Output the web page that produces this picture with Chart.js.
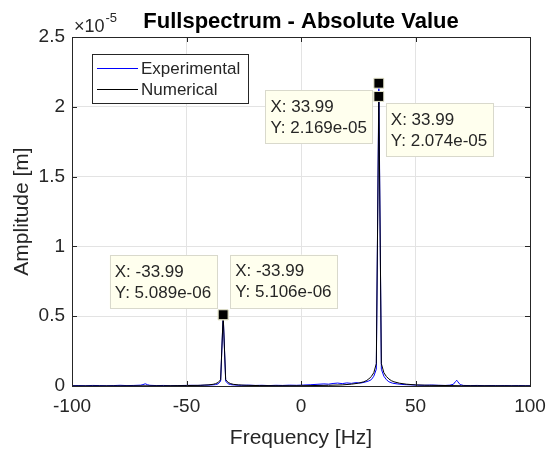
<!DOCTYPE html>
<html>
<head>
<meta charset="utf-8">
<script src="https://cdn.jsdelivr.net/npm/chart.js@4.4.1/dist/chart.umd.min.js"></script>
<style>
  html, body { margin: 0; padding: 0; background: #ffffff; }
  #wrap { width: 549px; height: 452px; }
</style>
</head>
<body>
<div id="wrap"><canvas id="spectrum" width="549" height="452"></canvas></div>
<script>
// Axis ticks
const xTicks = [-100, -50, 0, 50, 100];
const yTicks = [0, 0.5e-5, 1e-5, 1.5e-5, 2e-5, 2.5e-5];

// Experimental spectrum (blue)
const expFreq = [-100, -97, -94, -91, -88, -85, -82, -79, -76, -73, -70, -69, -68, -67, -66, -63, -60, -57, -54, -51,
  -48, -45, -42, -39.5, -37.29, -36.19, -35.09, -33.99, -32.89, -31.79, -30.69, -29, -26, -23, -20, -17,
  -14, -11, -8, -5, -2, 1, 4, 7, 10, 12, 14, 16, 18, 20, 22, 24, 26, 28, 29.59, 30.69,
  31.79, 32.89, 33.99, 35.09, 36.19, 37.29, 38.39, 40, 42, 45, 48, 51, 54, 57, 60, 63,
  65, 66.5, 67.5, 68, 68.5, 69.5, 71, 74, 77, 80, 83, 86, 89, 92, 95, 98, 100];
const expAmp = [0.02e-6, 0.03e-6, 0.02e-6, 0.04e-6, 0.03e-6, 0.02e-6, 0.03e-6, 0.05e-6, 0.03e-6, 0.04e-6, 0.06e-6, 0.10e-6, 0.16e-6, 0.09e-6, 0.05e-6, 0.03e-6, 0.04e-6, 0.02e-6, 0.03e-6, 0.04e-6,
  0.05e-6, 0.04e-6, 0.06e-6, 0.07e-6, 0.10e-6, 0.15e-6, 0.35e-6, 5.089e-6, 0.35e-6, 0.15e-6, 0.10e-6, 0.07e-6, 0.05e-6, 0.06e-6, 0.04e-6, 0.05e-6,
  0.03e-6, 0.05e-6, 0.04e-6, 0.06e-6, 0.05e-6, 0.07e-6, 0.09e-6, 0.12e-6, 0.15e-6, 0.13e-6, 0.18e-6, 0.21e-6, 0.17e-6, 0.22e-6, 0.19e-6, 0.24e-6, 0.21e-6, 0.28e-6, 0.36e-6, 0.45e-6,
  0.7e-6, 1.2e-6, 2.169e-5, 1.2e-6, 0.7e-6, 0.45e-6, 0.3e-6, 0.2e-6, 0.15e-6, 0.1e-6, 0.08e-6, 0.06e-6, 0.05e-6, 0.07e-6, 0.05e-6, 0.04e-6,
  0.06e-6, 0.12e-6, 0.32e-6, 0.41e-6, 0.30e-6, 0.10e-6, 0.04e-6, 0.03e-6, 0.04e-6, 0.02e-6, 0.03e-6, 0.02e-6, 0.03e-6, 0.02e-6, 0.03e-6, 0.02e-6, 0.02e-6];

// Numerical spectrum (black)
const numFreq = [-100, -80, -60, -50, -44, -40.59, -38.39, -37.29, -36.19, -35.09, -33.99, -32.89, -31.79, -30.69, -29.59, -27.39, -24, -18,
  -10, 0, 12, 18, 22, 25, 27.39, 28.49, 29.59, 30.69, 31.79, 32.89, 33.99, 35.09, 36.19, 37.29, 38.39, 39.49, 40.59,
  43, 46, 50, 56, 70, 85, 100];
const numAmp = [0.005e-6, 0.008e-6, 0.015e-6, 0.03e-6, 0.05e-6, 0.08e-6, 0.12e-6, 0.17e-6, 0.25e-6, 0.45e-6, 5.106e-6, 0.45e-6, 0.25e-6, 0.17e-6, 0.12e-6, 0.08e-6, 0.05e-6, 0.03e-6,
  0.02e-6, 0.02e-6, 0.05e-6, 0.08e-6, 0.13e-6, 0.2e-6, 0.3e-6, 0.38e-6, 0.5e-6, 0.68e-6, 0.95e-6, 1.6e-6, 2.074e-5, 1.6e-6, 0.95e-6, 0.68e-6, 0.5e-6, 0.38e-6, 0.3e-6,
  0.2e-6, 0.13e-6, 0.08e-6, 0.05e-6, 0.02e-6, 0.015e-6, 0.01e-6];

// Data tips
const tipX = [33.99, 33.99, -33.99, -33.99];
const tipY = [2.169e-5, 2.074e-5, 5.089e-6, 5.106e-6];

const seriesNames = ["Experimental", "Numerical"];

document.addEventListener("DOMContentLoaded", function () {
  const ctx = document.getElementById("spectrum").getContext("2d");
  const axisColor = "#262626";
  const font = "'Liberation Sans', Arial, Helvetica, sans-serif";

  function toPoints(xs, ys) {
    return xs.map(function (x, i) { return { x: x, y: ys[i] }; });
  }

  // MATLAB style number in data tips: 2.169e-05
  function sci(v) {
    const parts = v.toExponential(3).split("e");
    let exp = parts[1];
    const sign = exp[0] === "-" ? "-" : "+";
    exp = exp.replace("-", "").replace("+", "");
    if (exp.length < 2) exp = "0" + exp;
    return parts[0] + "e" + sign + exp;
  }

  // where each tip box goes relative to its marker
  const tipPlace = ["left-below", "right-below", "left-above", "right-above"];

  const matlabDecor = {
    id: "matlabDecor",
    afterDatasetsDraw(chart) {
      const c = chart.ctx;
      const area = chart.chartArea;
      const xs = chart.scales.x;
      const ys = chart.scales.y;

      // box and inward ticks
      c.save();
      c.strokeStyle = axisColor;
      c.lineWidth = 1;
      c.strokeRect(Math.round(area.left) + 0.5, Math.round(area.top) + 0.5,
        Math.round(area.right - area.left), Math.round(area.bottom - area.top));
      c.beginPath();
      xTicks.forEach(function (t) {
        const px = Math.round(xs.getPixelForValue(t)) + 0.5;
        c.moveTo(px, area.bottom); c.lineTo(px, area.bottom - 5);
        c.moveTo(px, area.top); c.lineTo(px, area.top + 5);
      });
      yTicks.forEach(function (t) {
        const py = Math.round(ys.getPixelForValue(t)) + 0.5;
        c.moveTo(area.left, py); c.lineTo(area.left + 5, py);
        c.moveTo(area.right, py); c.lineTo(area.right - 5, py);
      });
      c.stroke();

      // data tip boxes
      c.font = "17px " + font;
      tipX.forEach(function (tx, i) {
        const mx = xs.getPixelForValue(tx);
        const my = ys.getPixelForValue(tipY[i]);
        const l1 = "X: " + tx.toFixed(2);
        const l2 = "Y: " + sci(tipY[i]);
        const w = Math.max(c.measureText(l1).width, c.measureText(l2).width) + 11;
        const h = 53;
        const place = tipPlace[i];
        const bx = place.indexOf("left") === 0 ? mx - 6 - w : mx + 7;
        const by = place.indexOf("below") > 0 ? my + 7 : my - 7 - h;
        c.fillStyle = "#ffffee";
        c.fillRect(bx, by, w, h);
        c.strokeStyle = "#d9d9cc";
        c.strokeRect(Math.round(bx) + 0.5, Math.round(by) + 0.5, Math.round(w), h);
        c.fillStyle = axisColor;
        c.textAlign = "left";
        c.textBaseline = "middle";
        c.fillText(l1, bx + 5, by + 17);
        c.fillText(l2, bx + 5, by + 38);
      });
      c.restore();
    },
    afterDraw(chart) {
      const c = chart.ctx;
      const area = chart.chartArea;
      const cx = (area.left + area.right) / 2;
      const cy = (area.top + area.bottom) / 2;
      c.save();
      c.fillStyle = "#000000";
      c.textAlign = "center";
      c.textBaseline = "alphabetic";
      c.font = "bold 22px " + font;
      c.fillText("Fullspectrum - Absolute Value", cx, 28);

      // exponent label
      c.fillStyle = axisColor;
      c.textAlign = "left";
      c.font = "18px " + font;
      c.fillText("\u00d710", area.left + 2, 32);
      const w10 = c.measureText("\u00d710").width;
      c.font = "13px " + font;
      c.fillText("-5", area.left + 3 + w10, 22);

      // axis titles
      c.font = "21px " + font;
      c.textAlign = "center";
      c.fillText("Frequency [Hz]", cx, 444);
      c.translate(22, cy);
      c.rotate(-Math.PI / 2);
      c.textBaseline = "middle";
      c.fillText("Amplitude [m]", 0, 0);
      c.restore();

      // legend
      c.save();
      c.fillStyle = "#ffffff";
      c.fillRect(92, 54, 156, 49);
      c.strokeStyle = axisColor;
      c.lineWidth = 1;
      c.strokeRect(92.5, 54.5, 156, 49);
      const colors = ["#0000ff", "#000000"];
      const rows = [68.5, 89.5];
      c.font = "17px " + font;
      c.textAlign = "left";
      c.textBaseline = "middle";
      seriesNames.forEach(function (name, i) {
        c.strokeStyle = colors[i];
        c.beginPath();
        c.moveTo(97, rows[i]); c.lineTo(138, rows[i]);
        c.stroke();
        c.fillStyle = axisColor;
        c.fillText(name, 141, rows[i] + 1);
      });
      c.restore();
    }
  };

  new Chart(ctx, {
    type: "scatter",
    data: {
      datasets: [
        {
          label: seriesNames[0],
          data: toPoints(expFreq, expAmp),
          showLine: true,
          borderColor: "#0000ff",
          borderWidth: 1,
          pointRadius: 0,
          order: 3
        },
        {
          label: seriesNames[1],
          data: toPoints(numFreq, numAmp),
          showLine: true,
          borderColor: "#000000",
          borderWidth: 1,
          pointRadius: 0,
          order: 2
        },
        {
          label: "tips",
          data: toPoints(tipX, tipY),
          showLine: false,
          pointStyle: "rect",
          pointRadius: 7,
          pointBackgroundColor: "#000000",
          pointBorderColor: "#e6e6cc",
          pointBorderWidth: 1,
          order: 1
        }
      ]
    },
    options: {
      responsive: false,
      animation: false,
      events: [],
      layout: { padding: { left: 0, top: 37, right: 19, bottom: 0 } },
      plugins: {
        legend: { display: false },
        title: { display: false },
        tooltip: { enabled: false }
      },
      scales: {
        x: {
          type: "linear",
          min: -100,
          max: 100,
          afterBuildTicks: function (scale) {
            scale.ticks = xTicks.map(function (v) { return { value: v }; });
          },
          afterFit: function (scale) {
            scale.height = 66;
            // labels may hang past the plot edges, do not shrink the plot for them
            scale.paddingLeft = 0;
            scale.paddingRight = 0;
          },
          grid: { color: "#e3e3e3", drawTicks: false },
          border: { display: false },
          ticks: {
            color: axisColor,
            font: { family: font, size: 19 },
            padding: 9,
            maxRotation: 0
          }
        },
        y: {
          type: "linear",
          min: 0,
          max: 2.5e-5,
          afterBuildTicks: function (scale) {
            scale.ticks = yTicks.map(function (v) { return { value: v }; });
          },
          afterFit: function (scale) {
            scale.width = 72;
            scale.paddingTop = 0;
            scale.paddingBottom = 0;
          },
          grid: { color: "#e3e3e3", drawTicks: false },
          border: { display: false },
          ticks: {
            color: axisColor,
            font: { family: font, size: 19 },
            padding: 7,
            callback: function (v) { return String(Math.round(v / 1e-5 * 10) / 10); }
          }
        }
      }
    },
    plugins: [matlabDecor]
  });
});
</script>
</body>
</html>
